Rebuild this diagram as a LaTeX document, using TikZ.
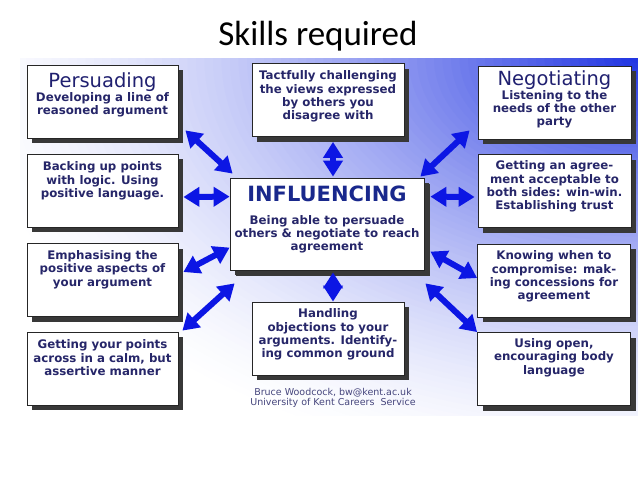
\documentclass[tikz,border=0pt]{standalone}
\usepackage{fontspec}
\setmainfont{DejaVu Sans}
\newfontfamily\titlefont{Carlito}
\usetikzlibrary{shadows,arrows.meta,calc}

\definecolor{arrowblue}{RGB}{12,22,228}
\definecolor{txtcol}{RGB}{38,38,105}
\definecolor{headcol}{RGB}{32,32,112}
\definecolor{inflcol}{RGB}{25,40,140}
\definecolor{bgblue}{RGB}{30,50,225}
\definecolor{credcol}{RGB}{70,70,125}

\newcommand{\hdr}[1]{{\mdseries\fontsize{19.5}{20}\selectfont\color{headcol}#1}}

\begin{document}
\begin{tikzpicture}[x=1pt,y=-1pt,
  box/.style={draw=black!85, line width=0.8pt, fill=white, inner sep=0pt,
    text=txtcol, font=\bfseries\fontsize{11.8}{13.3}\selectfont,
    general shadow={fill=black!78, shadow xshift=5pt, shadow yshift=-5pt}},
  link/.style={arrowblue, line width=6pt,
    {Triangle[length=16pt,width=19pt]}-{Triangle[length=16pt,width=19pt]}}
]
\useasboundingbox (0,0) rectangle (638,479);
\fill[white] (0,0) rectangle (638,479);
\begin{scope}
  \clip (20,58) rectangle (638,415);
  \foreach \i in {80,...,1}{
    \pgfmathsetmacro\rr{1-\i/81}
    \pgfmathsetmacro\pct{100*\rr*sqrt(\rr)}
    \fill[bgblue!\pct!white] (638,58) ellipse ({8.5*\i} and {5.25*\i});
  }
\end{scope}

\node[font=\titlefont\fontsize{35}{40}\selectfont] (title) at (318,36) {Skills required};

% left column
\node[box] (p) at (102.5,101.5) {\parbox[c][73pt][t]{151pt}{\centering\vspace*{8pt}\hdr{Persuading}\\[0pt]Developing a line of\\reasoned argument}};
\node[box] (b) at (102.5,190.5) {\parbox[c][73pt][t]{151pt}{\centering\vspace*{8pt}Backing up points\\with logic. Using\\positive language.}};
\node[box] (e) at (102.5,280) {\parbox[c][73pt][t]{151pt}{\centering\vspace*{7pt}Emphasising the\\positive aspects of\\your argument}};
\node[box] (g) at (102.5,368.5) {\parbox[c][73pt][t]{151pt}{\centering\vspace*{8pt}Getting your points\\across in a calm, but\\assertive manner}};

% centre column
\node[box] (t) at (328,100) {\parbox[c][73pt][t]{152pt}{\centering\vspace*{7.5pt}Tactfully challenging\\the views expressed\\by others you\\disagree with}};
\node[box, general shadow={fill=black!78, shadow xshift=6pt, shadow yshift=-6pt}] (c) at (327,224) {\parbox[c][92pt][t]{194pt}{\centering\vspace*{8pt}{\color{inflcol}\fontsize{21}{22}\selectfont INFLUENCING}\\[9.5pt]Being able to persuade\\others \& negotiate to reach\\agreement}};
\node[box] (h) at (328,338.5) {\parbox[c][73pt][t]{152pt}{\centering\vspace*{7pt}Handling\\objections to your\\arguments. Identify-\\ing common ground}};

% right column
\node[box] (n) at (554.5,102.5) {\parbox[c][73pt][t]{153pt}{\centering\vspace*{5pt}\hdr{Negotiating}\\[0pt]Listening to the\\needs of the other\\party}};
\node[box] (a) at (554.5,191) {\parbox[c][73pt][t]{153pt}{\centering\vspace*{6.5pt}Getting an agree-\\ment acceptable to\\both sides: win-win.\\Establishing trust}};
\node[box] (k) at (554,280.5) {\parbox[c][73pt][t]{153pt}{\centering\vspace*{7pt}Knowing when to\\compromise: mak-\\ing concessions for\\agreement}};
\node[box] (u) at (554,369) {\parbox[c][73pt][t]{153pt}{\centering\vspace*{6pt}Using open,\\encouraging body\\language}};

\node[font=\fontsize{9.5}{10.5}\selectfont, text=credcol, align=center] (cred) at (333,398) {Bruce Woodcock, bw@kent.ac.uk\\University of Kent Careers\ \ Service};

% connectors
\draw[link] ($(p.south east)+(7,-8)$) -- ($(c.north west)+(3,-4)$);
\draw[link] ($(b.east)+(5,6.5)$) -- ($(c.north west)+(0,19)$);
\draw[link] ($(e.east)+(5,-8)$) -- ($(c.north west)+(0,70)$);
\draw[link] ($(g.north east)+(4,-1)$) -- ($(c.south west)+(5,13)$);
\draw[link] ($(t.south)+(5,5)$) -- ($(c.north)+(6,-1)$);
\draw[link] ($(c.south)+(6,2)$) -- ($(h.north)+(5,0)$);
\draw[link] ($(n.south west)+(-8,-9)$) -- ($(c.north east)+(-4,-1)$);
\draw[link] ($(c.north east)+(6,19)$) -- ($(a.west)+(-3,6)$);
\draw[link] ($(c.north east)+(6,74)$) -- ($(k.west)+(0,-2.5)$);
\draw[link] ($(c.south east)+(1,13)$) -- ($(u.north west)+(0,0)$);
\end{tikzpicture}
\end{document}
